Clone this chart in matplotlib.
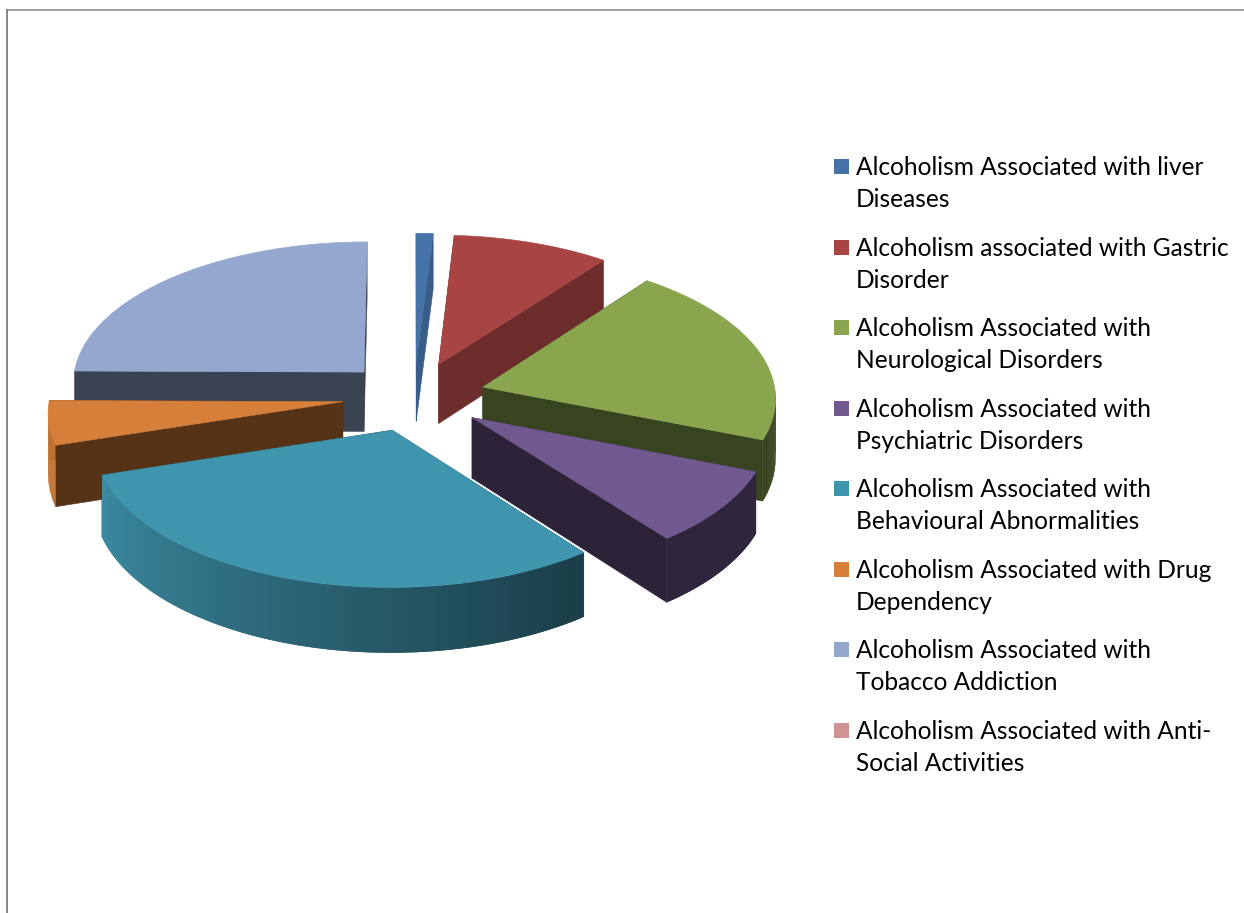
import numpy as np
import matplotlib
matplotlib.use("Agg")
import matplotlib.pyplot as plt
from matplotlib.colors import to_rgb
from matplotlib.patches import Polygon, Rectangle
from matplotlib.lines import Line2D

# Legend entries and slice shares
labels = [
    "Alcoholism Associated with liver\nDiseases",
    "Alcoholism associated with Gastric\nDisorder",
    "Alcoholism Associated with\nNeurological Disorders",
    "Alcoholism Associated with\nPsychiatric Disorders",
    "Alcoholism Associated with\nBehavioural Abnormalities",
    "Alcoholism Associated with Drug\nDependency",
    "Alcoholism Associated with\nTobacco Addiction",
    "Alcoholism Associated with Anti-\nSocial Activities",
]
values = [1.0, 9.3, 20.5, 8.5, 30.5, 4.95, 24.75, 0.0]
colors = ["#4572a7", "#a84543", "#89a54e", "#71588f", "#4095ae", "#d67f3a", "#93a7cf", "#d09393"]
wall_shade = [0.82, 0.65, 0.41, 0.40, 0.42, 0.40, 0.40, 0.40]
draw_order = [6, 5, 0, 1, 2, 3, 4]

# Fake 3D view settings
CX, CY = 414, 396.5
RX, RY = 293, 142
DEPTH = 15.0
EXPLODE = 0.245
HEIGHT = 60


def project(u, v, down=0.0):
    s = DEPTH / (DEPTH - v)
    return CX + RX * u * s, CY + RY * v * s + HEIGHT * down * s


def rim_shade(a):
    # dark on the right, close to the top colour on the left
    return np.clip(0.42 + (a - 145) / 105 * 0.5, 0.42, 0.92)


fig = plt.figure(figsize=(12.44, 9.13), dpi=100)
ax = fig.add_axes([0, 0, 1, 1])
ax.set_xlim(0, 1244)
ax.set_ylim(913, 0)
ax.axis("off")

# Chart area border, only top and left show
ax.add_line(Line2D([6.5, 1244], [10, 10], color="#868686", lw=1.1))
ax.add_line(Line2D([7, 7], [10, 913], color="#868686", lw=1.4))

edges = np.concatenate([[0], np.cumsum(values)]) / np.sum(values) * 360

for i in draw_order:
    start, end = edges[i], edges[i + 1]
    base = np.array(to_rgb(colors[i]))
    mid = np.radians((start + end) / 2)
    u0 = EXPLODE * np.sin(mid)
    v0 = -EXPLODE * np.cos(mid)

    angs = np.linspace(start, end, max(int(end - start) * 2, 6))
    us = u0 + np.sin(np.radians(angs))
    vs = v0 - np.cos(np.radians(angs))

    # flat side walls
    wall = base * wall_shade[i]
    for j in (0, -1):
        quad = [project(u0, v0), project(us[j], vs[j]),
                project(us[j], vs[j], 1), project(u0, v0, 1)]
        ax.add_patch(Polygon(quad, closed=True, fc=wall, ec=wall, lw=0.4))

    # curved outer wall, strips overlap so no seams show
    for k in range(len(angs) - 1):
        a = (angs[k] + angs[k + 1]) / 2
        if not 90 < a < 268:
            continue
        k2 = min(k + 2, len(angs) - 1)
        strip = [project(us[k], vs[k]), project(us[k2], vs[k2]),
                 project(us[k2], vs[k2], 1), project(us[k], vs[k], 1)]
        ax.add_patch(Polygon(strip, closed=True, fc=base * rim_shade(a), ec="none"))

    # top face
    top = [project(u0, v0)] + [project(x, y) for x, y in zip(us, vs)]
    ax.add_patch(Polygon(top, closed=True, fc=base, ec=base, lw=0.4))

# Legend
for i, label in enumerate(labels):
    y = 166 + i * 80.57
    first, second = label.split("\n")
    ax.add_patch(Rectangle((834, y - 7), 15, 15, fc=colors[i], ec="none"))
    ax.text(855.5, y + 1.5, first, family="Lato", fontsize=17.65, color="black", va="center")
    ax.text(855.5, y + 33.5, second, family="Lato", fontsize=17.65, color="black", va="center")

fig.savefig("out.png", dpi=100)
